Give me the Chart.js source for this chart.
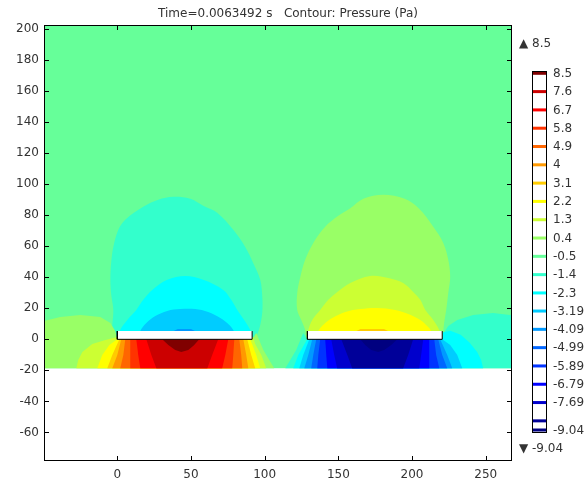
<!DOCTYPE html>
<html>
<head>
<meta charset="utf-8">
<script src="https://cdn.jsdelivr.net/npm/chart.js@4.4.1/dist/chart.umd.min.js"></script>
<style>
  html, body { margin: 0; padding: 0; background: #fff; }
  #wrap { width: 584px; height: 483px; }
</style>
</head>
<body>
<div id="wrap"><canvas id="chart" width="584" height="483"></canvas></div>
<script>
// axis ticks
const xTicks = [0, 50, 100, 150, 200, 250];
const yTicks = [-60, -40, -20, 0, 20, 40, 60, 80, 100, 120, 140, 160, 180, 200];

// contour levels (Pa), top of the colour bar first
const levels = [8.5, 7.6, 6.7, 5.8, 4.9, 4, 3.1, 2.2, 1.3, 0.4, -0.5, -1.4, -2.3, -3.19, -4.09, -4.99, -5.89, -6.79, -7.69, -8.59, -9.04];
const levelLabels = ['8.5', '7.6', '6.7', '5.8', '4.9', '4', '3.1', '2.2', '1.3', '0.4', '-0.5', '-1.4', '-2.3', '-3.19', '-4.09', '-4.99', '-5.89', '-6.79', '-7.69', '', '-9.04'];
const levelColors = ['#800000', '#cc0000', '#ff0000', '#ff3300', '#ff6600', '#ff9900', '#ffcc00', '#ffff00', '#ccff33', '#99ff66',
  '#66ff99', '#33ffcc', '#00ffff', '#00ccff', '#0099ff', '#0066ff', '#0033ff', '#0000ff', '#0000cc', '#000099', '#000080'];

// filled contour regions, [x, y] in axis units
const field = [[-50, -18.7], [268, -18.7], [268, 203], [-50, 203]];

// above the left plate (negative)
const upL1 = [[-4.1, 0], [-3.4, 9.2], [-2.7, 18.9], [-4.1, 28.6], [-4.7, 38.3], [-4.1, 49.9], [-2.7, 59.5], [0.7, 70.5], [5.4, 77.0],
  [17.6, 85.4], [27.8, 89.9], [38.0, 91.8], [49.5, 90.5], [58.3, 86.0], [67.8, 81.5], [78.7, 70.5], [86.8, 59.5], [92.2, 49.2],
  [97.0, 38.3], [98.4, 27.3], [98.4, 17.6], [97.0, 9.2], [95.0, 3.4], [92.9, 0]];
const upL2 = [[0.7, 0], [2.0, 6.0], [6.8, 12.5], [12.9, 18.9], [17.6, 25.4], [23.7, 31.8], [33.9, 38.3], [46.1, 40.8], [58.3, 38.3],
  [71.9, 31.8], [77.3, 25.4], [81.4, 18.9], [86.1, 12.5], [90.2, 6.0], [91.6, 0]];
const upL3 = [[14.2, 0], [15.6, 5.4], [19.7, 10.5], [25.8, 15.0], [33.9, 18.3], [42.7, 19.5], [52.9, 19.5], [61.7, 17.6], [69.9, 13.7],
  [76.0, 9.2], [79.4, 4.7], [80.7, 0]];
const upL4 = [[38, 5.2], [41, 6.6], [50, 6.6], [53, 5.2]];

// above the right plate (positive)
const upR1 = [[128.2, 0], [127.5, 6.0], [124.8, 12.5], [122.1, 18.9], [122.1, 29.9], [124.2, 40.2], [127.5, 51.2], [133.0, 62.1],
  [141.1, 72.5], [150.0, 79.5], [158.1, 84.4], [167.0, 90.5], [180.5, 93.1], [195.0, 90.5], [204.5, 84.4], [214.4, 72.5],
  [221.2, 62.1], [224.6, 51.2], [225.9, 40.2], [224.6, 29.9], [223.2, 18.9], [221.8, 10.5], [221.2, 4.7], [221.2, 0]];
const upR2 = [[128.9, 0], [129.6, 6.0], [132.3, 12.5], [137.7, 18.9], [143.2, 25.4], [149.3, 30.5], [158.1, 36.3], [171.6, 40.8],
  [183.9, 39.5], [194.0, 36.3], [200.8, 30.5], [205.6, 25.4], [209.0, 18.9], [214.4, 12.5], [218.5, 6.0], [219.8, 0]];
const upR3 = [[135.0, 0], [136.4, 5.4], [140.4, 9.9], [145.9, 13.7], [154.7, 17.6], [164.9, 19.5], [176.4, 20.2], [188.6, 18.9],
  [197.4, 16.3], [205.6, 12.5], [211.0, 7.9], [213.7, 4.1], [214.4, 0]];
const upR4 = [[162, 5.2], [165, 6.6], [181, 6.6], [184, 5.2]];

// below the left plate (positive), outermost first
const loL04 = [[-50, -18.7], [-50, 11.8], [-38.7, 14.4], [-25.1, 15.7], [-11.5, 14.4], [-4.7, 10.5], [-1.4, 5.4], [0, 0],
  [91.6, 0], [94.3, 4.1], [99.1, -6.9], [103.1, -13.4], [106.5, -18.7]];
const loL13 = [[0, 1.5], [-8.1, -0.5], [-17.0, -3.0], [-23.7, -8.2], [-26.5, -13.4], [-27.8, -18.7], [101.1, -18.7], [97.7, -10.1],
  [93.6, -3.0], [92.2, 1.5]];
const loL22 = [[0, 0], [-5.4, -3.7], [-10.2, -10.1], [-13.6, -18.7], [97.0, -18.7], [94.3, -10.1], [90.2, 0]];
const loL31 = [[1.4, 0], [-3.4, -10.1], [-6.8, -18.7], [93.6, -18.7], [90.9, -10.1], [88.2, 0]];
const loL40 = [[2.7, 0], [0, -10.1], [-3.4, -18.7], [88.9, -18.7], [87.5, -10.1], [85.5, 0]];
const loL49 = [[5.4, 0], [4.1, -10.1], [2.0, -18.7], [84.8, -18.7], [84.1, -10.1], [82.8, 0]];
const loL58 = [[8.8, 0], [8.8, -10.1], [8.8, -18.7], [78.0, -18.7], [78.7, -10.1], [79.4, 0]];
const loL67 = [[12.9, 0], [14.2, -10.1], [15.6, -18.7], [71.2, -18.7], [73.3, -10.1], [75.3, 0]];
const loL76 = [[19.7, 0], [23.1, -10.1], [26.5, -18.7], [61.1, -18.7], [64.4, -10.1], [68.5, 0]];
const loL85 = [[30.5, 0], [34.6, -3.7], [39.3, -6.9], [43.4, -8.2], [48.2, -6.9], [52.2, -3.7], [55.6, 0]];

// below the right plate (negative), outermost first
const loR14 = [[128.9, 0], [126.2, 4.1], [121.4, -6.9], [117.4, -13.4], [114.0, -18.7], [268.5, -18.7], [268.5, 15.5],
  [255.0, 16.9], [241.5, 15.7], [230.7, 12.4], [224.6, 8.5], [221.5, 4.0], [220.5, 0]];
const loR23 = [[128.9, 0], [122.8, -10.1], [119.4, -18.7], [248.3, -18.7], [246.9, -13.4], [244.2, -8.2], [239.0, -2.0],
  [233.0, 3.0], [226.0, 5.5], [221.0, 4.5], [220.5, 0]];
const loR32 = [[130.3, 0], [126.2, -10.1], [123.5, -18.7], [234.1, -18.7], [230.7, -10.1], [225.9, -3.7], [220.5, 0]];
const loR41 = [[132.3, 0], [129.6, -10.1], [126.9, -18.7], [227.3, -18.7], [223.9, -10.1], [219.1, 0]];
const loR50 = [[135.0, 0], [133.0, -10.1], [131.6, -18.7], [223.9, -18.7], [220.5, -10.1], [217.8, 0]];
const loR59 = [[137.7, 0], [136.4, -10.1], [135.7, -18.7], [218.5, -18.7], [216.4, -10.1], [215.1, 0]];
const loR68 = [[141.1, 0], [141.8, -10.1], [142.5, -18.7], [211.7, -18.7], [211.7, -10.1], [211.7, 0]];
const loR77 = [[145.2, 0], [147.2, -10.1], [149.2, -18.7], [204.9, -18.7], [206.2, -10.1], [207.6, 0]];
const loR86 = [[152.0, 0], [156.1, -10.1], [159.4, -18.7], [194.0, -18.7], [197.4, -10.1], [200.8, 0]];
const loR90 = [[164.9, 0], [168.2, -3.7], [172.3, -6.9], [177.1, -8.2], [181.1, -6.9], [185.9, -3.7], [190.0, 0]];

// the two plates
const plateL = [[0, 5.3], [0, 0], [91.5, 0], [91.5, 5.3]];
const plateR = [[129, 5.3], [129, 0], [220.5, 0], [220.5, 5.3]];

// bottom layer first, each with the contour level whose colour fills it
const layers = [
  [field, -0.5],
  [upL1, -1.4], [upL2, -2.3], [upL3, -3.19], [upL4, -4.09],
  [upR1, 0.4], [upR2, 1.3], [upR3, 2.2], [upR4, 3.1],
  [loL04, 0.4], [loL13, 1.3], [loL22, 2.2], [loL31, 3.1], [loL40, 4], [loL49, 4.9], [loL58, 5.8], [loL67, 6.7], [loL76, 7.6], [loL85, 8.5],
  [loR14, -1.4], [loR23, -2.3], [loR32, -3.19], [loR41, -4.09], [loR50, -4.99], [loR59, -5.89], [loR68, -6.79], [loR77, -7.69], [loR86, -8.59], [loR90, -9.04]
];
// rounded outlines for the domes above the plates
const smooth = [upL1, upL2, upL3, upR1, upR2, upR3];

const toXY = pts => pts.map(p => ({ x: p[0], y: p[1] }));

const datasets = layers.map(([pts, lvl], i) => ({
  data: toXY(pts),
  backgroundColor: levelColors[levels.indexOf(lvl)],
  borderColor: 'rgba(0,0,0,0)',
  borderWidth: 0,
  fill: 'shape',
  pointRadius: 0,
  tension: smooth.includes(pts) ? 0.35 : 0,
  order: layers.length + 5 - i
}));
[plateL, plateR].forEach((pts, k) => {
  datasets.push({
    data: toXY(pts),
    backgroundColor: '#fff',
    borderColor: '#000',
    borderWidth: 1,
    fill: 'shape',
    pointRadius: 0,
    tension: 0,
    order: 2 - k
  });
});

const title = 'Time=0.0063492 s   Contour: Pressure (Pa)';

// frame, inward ticks, title and colour legend
const overlay = {
  id: 'overlay',
  afterDraw(chart) {
    const { ctx, chartArea: a, scales } = chart;
    ctx.save();
    ctx.strokeStyle = '#000';
    ctx.lineWidth = 1;
    ctx.strokeRect(a.left + 0.5, a.top + 0.5, a.right - a.left - 1, a.bottom - a.top - 1);
    ctx.beginPath();
    xTicks.forEach(v => {
      const px = Math.round(scales.x.getPixelForValue(v)) + 0.5;
      ctx.moveTo(px, a.bottom); ctx.lineTo(px, a.bottom - 5);
      ctx.moveTo(px, a.top); ctx.lineTo(px, a.top + 5);
    });
    yTicks.forEach(v => {
      const py = Math.round(scales.y.getPixelForValue(v)) + 0.5;
      ctx.moveTo(a.left, py); ctx.lineTo(a.left + 5, py);
      ctx.moveTo(a.right, py); ctx.lineTo(a.right - 5, py);
    });
    ctx.stroke();

    ctx.fillStyle = '#333';
    ctx.font = '12px "DejaVu Sans"';
    ctx.textAlign = 'center';
    ctx.textBaseline = 'middle';
    ctx.fillText(title, 288, 14);

    // colour bar
    const cb = scales.cb;
    const bx = 532, bw = 14;
    const yTop = cb.getPixelForValue(levels[0]) - 2;
    const yBot = cb.getPixelForValue(levels[levels.length - 1]) + 2;
    ctx.fillStyle = '#fff';
    ctx.fillRect(bx, yTop, bw, yBot - yTop);
    levels.forEach((v, i) => {
      const py = cb.getPixelForValue(v);
      ctx.fillStyle = levelColors[i];
      ctx.fillRect(bx, py - 1.5, bw, 3);
    });
    ctx.strokeStyle = '#000';
    ctx.strokeRect(bx + 0.5, Math.round(yTop) + 0.5, bw, Math.round(yBot - yTop));
    ctx.fillStyle = '#333';
    ctx.textAlign = 'left';
    levels.forEach((v, i) => {
      if (levelLabels[i]) ctx.fillText(levelLabels[i], 553, cb.getPixelForValue(v) + 0.5);
    });
    ctx.fillText('\u25B2 ' + levelLabels[0], 519, 44);
    ctx.fillText('\u25BC ' + levelLabels[levelLabels.length - 1], 519, 449);
    ctx.restore();
  }
};

Chart.defaults.font.family = '"DejaVu Sans"';
Chart.defaults.font.size = 12;
Chart.defaults.color = '#333';

new Chart(document.getElementById('chart'), {
  type: 'line',
  data: { datasets: datasets },
  options: {
    responsive: false,
    animation: false,
    events: [],
    layout: { padding: { top: 25, right: 72, left: 0, bottom: 0 } },
    plugins: { legend: { display: false }, tooltip: { enabled: false }, title: { display: false } },
    scales: {
      x: {
        type: 'linear', min: -49.74, max: 267.85,
        grid: { display: false, drawTicks: false }, border: { display: false },
        ticks: { padding: 7, maxRotation: 0, autoSkip: false },
        afterBuildTicks: s => { s.ticks = xTicks.map(v => ({ value: v })); },
        afterFit: s => { s.height = 22; }
      },
      y: {
        type: 'linear', min: -78.36, max: 202.4,
        grid: { display: false, drawTicks: false }, border: { display: false },
        ticks: { padding: 5, autoSkip: false },
        afterBuildTicks: s => { s.ticks = yTicks.map(v => ({ value: v })); },
        afterFit: s => { s.width = 44; }
      },
      cb: { type: 'linear', axis: 'y', display: false, min: -10.564, max: 10.875 }
    }
  },
  plugins: [overlay]
});
</script>
</body>
</html>
